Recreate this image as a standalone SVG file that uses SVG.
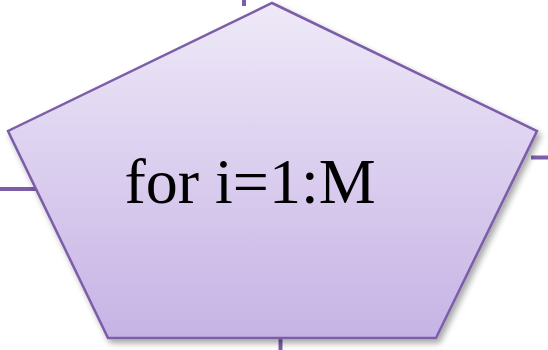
<svg xmlns="http://www.w3.org/2000/svg" width="548" height="350" viewBox="0 0 548 350">
<defs>
<linearGradient id="g" x1="0" y1="0" x2="0" y2="1">
<stop offset="0" stop-color="#efe9f8"/>
<stop offset="1" stop-color="#c6b3e5"/>
</linearGradient>
<filter id="sh" x="-10%" y="-10%" width="130%" height="130%">
<feGaussianBlur in="SourceAlpha" stdDeviation="3"/>
<feOffset dx="3" dy="4" result="b"/>
<feComponentTransfer><feFuncA type="linear" slope="0.35"/></feComponentTransfer>
<feMerge><feMergeNode/><feMergeNode in="SourceGraphic"/></feMerge>
</filter>
<style>
.c{stroke:#7b5da8;stroke-width:4;fill:none}
.n{fill:url(#g);stroke:#7b5da8;stroke-width:2.5}
.t{font-family:"Liberation Serif","Times New Roman",serif;font-size:64px;fill:#000}
</style>
</defs>
<rect width="548" height="350" fill="#fff"/>
<g id="connectors">
<line class="c" x1="244" y1="0" x2="244" y2="6"/>
<line class="c" x1="0" y1="189" x2="43" y2="189"/>
<line class="c" x1="531" y1="157.5" x2="548" y2="157.5"/>
<line class="c" x1="280.5" y1="328" x2="280.5" y2="350"/>
</g>
<g id="loop">
<polygon class="n" filter="url(#sh)" points="272,3 537,131 436,338 108,338 8,131"/>
<text class="t" x="250" y="203" text-anchor="middle">for i=1:M</text>
</g>
</svg>
